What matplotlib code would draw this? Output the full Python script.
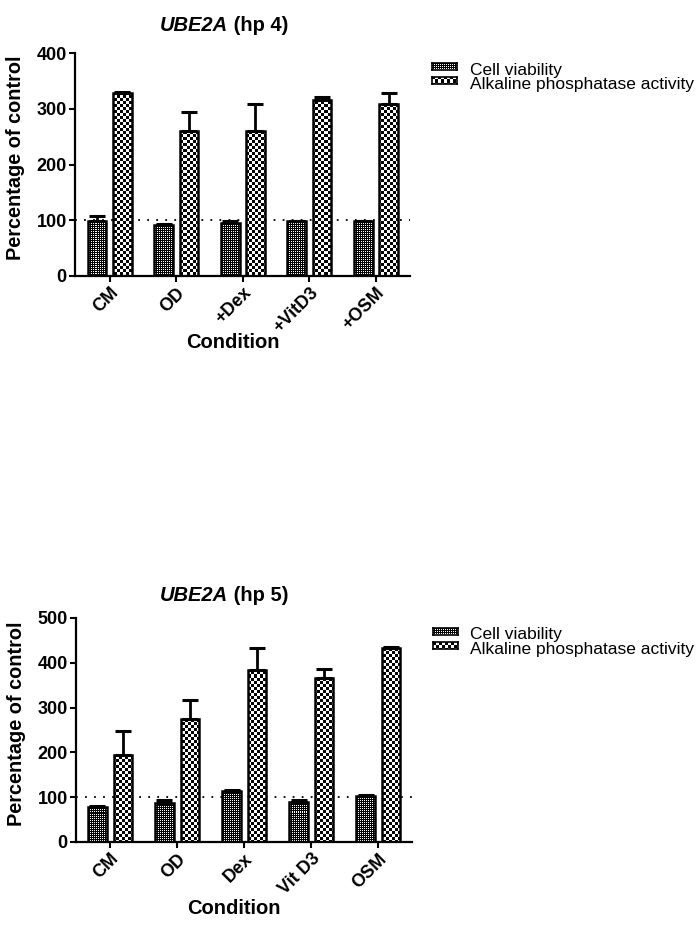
import numpy as np
import matplotlib
matplotlib.use("Agg")
from matplotlib import pyplot as plt
from matplotlib.transforms import ScaledTranslation

plt.rcParams['font.family'] = ['Liberation Sans', 'DejaVu Sans']

series_names = ['Cell viability', 'Alkaline phosphatase activity']

# hp 4
conditions_hp4 = ['CM', 'OD', '+Dex', '+VitD3', '+OSM']
viab_hp4 = [98, 91, 95, 98, 98]
viab_err_hp4 = [10, 2, 3, 1, 1]
alp_hp4 = [328, 260, 260, 315, 308]
alp_err_hp4 = [2, 35, 48, 6, 21]

# hp 5
conditions_hp5 = ['CM', 'OD', 'Dex', 'Vit D3', 'OSM']
viab_hp5 = [79, 87, 113, 90, 102]
viab_err_hp5 = [2, 6, 2, 3, 2]
alp_hp5 = [194, 275, 385, 366, 433]
alp_err_hp5 = [54, 42, 48, 21, 3]

W, H = 699, 925
fig = plt.figure(figsize=(W / 100, H / 100), dpi=100)


def px_rect(left, top, right, bottom):
    return [left / W, 1 - bottom / H, (right - left) / W, (bottom - top) / H]


def texture(h, w, kind):
    i, j = np.mgrid[0:h, 0:w]
    if kind == 0:
        # fine dots
        return ((i % 2 == 0) & (j % 2 == 0)).astype(float)
    return (((i // 3) + (j // 3)) % 2).astype(float)


def draw_panel(rect, conds, series, errs, ymax, title, title_pos, xlim, legend_pos):
    ax = fig.add_axes(px_rect(*rect))
    bb = ax.get_window_extent()
    th, tw = int(round(bb.height)), int(round(bb.width))
    x = np.arange(len(conds))
    width = 0.28
    offs = [-0.19, 0.19]
    for k, (vals, err) in enumerate(zip(series, errs)):
        bars = ax.bar(x + offs[k], vals, width, facecolor='none', edgecolor='black',
                      linewidth=1.8, zorder=3)
        ax.errorbar(x + offs[k], vals, yerr=[np.zeros(len(vals)), err], fmt='none',
                    ecolor='black', elinewidth=2, capsize=5.5, capthick=2.2, zorder=2.8)
        tex = texture(th, tw, k)
        for b in bars:
            im = ax.imshow(tex, extent=(0, 1, 0, 1), transform=ax.transAxes, cmap='gray',
                           vmin=0, vmax=1, interpolation='nearest', aspect='auto', zorder=2.5)
            im.set_clip_path(b)
    ax.axhline(100, color='black', linestyle=(0, (1, 4)), linewidth=1.3, zorder=1)
    ax.set_xlim(*xlim)
    ax.set_ylim(0, ymax)
    ax.set_yticks(np.arange(0, ymax + 1, 100))
    ax.set_xticks(x)
    ax.set_xticklabels(conds, rotation=45, ha='right', va='top', rotation_mode='anchor',
                       fontsize=13, fontweight='bold')
    shift = ScaledTranslation(-3 / 100, 0, fig.dpi_scale_trans)
    for lab in ax.get_xticklabels():
        lab.set_transform(lab.get_transform() + shift)
    for lab in ax.get_yticklabels():
        lab.set_fontsize(13)
        lab.set_fontweight('bold')
    for s in ['top', 'right']:
        ax.spines[s].set_visible(False)
    for s in ['left', 'bottom']:
        ax.spines[s].set_linewidth(1.6)
    ax.tick_params(direction='out', length=4, width=1.5, pad=2)
    ax.set_ylabel('Percentage of control', fontsize=14.3, fontweight='bold')
    ax.yaxis.set_label_coords(-0.15, 0.53)
    ax.set_xlabel('Condition', fontsize=14.5, fontweight='bold', va='top')
    ax.xaxis.set_label_coords(0.47, -0.255)

    t1 = fig.text(title_pos[0] / W, 1 - title_pos[1] / H, 'UBE2A', fontsize=14.5,
                  fontweight='bold', style='italic', va='baseline')
    ax.annotate(title, xy=(1, 0), xycoords=t1, fontsize=14.5, fontweight='bold',
                va='bottom', annotation_clip=False)

    # legend
    lx, ly = legend_pos
    for k, name in enumerate(series_names):
        top = ly + k * 14.5
        sw = fig.add_axes(px_rect(lx, top, lx + 25, top + 7))
        sw.imshow(texture(7, 25, k), cmap='gray', vmin=0, vmax=1,
                  interpolation='nearest', aspect='auto')
        sw.set_xticks([])
        sw.set_yticks([])
        for s in sw.spines.values():
            s.set_linewidth(1.2)
        fig.text((lx + 38) / W, 1 - (top + 12) / H, name, fontsize=12.5, va='baseline')
    return ax


draw_panel((75, 53, 410, 276), conditions_hp4, [viab_hp4, alp_hp4],
           [viab_err_hp4, alp_err_hp4], 400, ' (hp 4)', (160, 31), (-0.52, 4.51), (432, 62.5))
draw_panel((76, 618, 412.5, 842), conditions_hp5, [viab_hp5, alp_hp5],
           [viab_err_hp5, alp_err_hp5], 500, ' (hp 5)', (160, 601), (-0.51, 4.51), (432.5, 627.5))

fig.savefig('out.png', dpi=100)
